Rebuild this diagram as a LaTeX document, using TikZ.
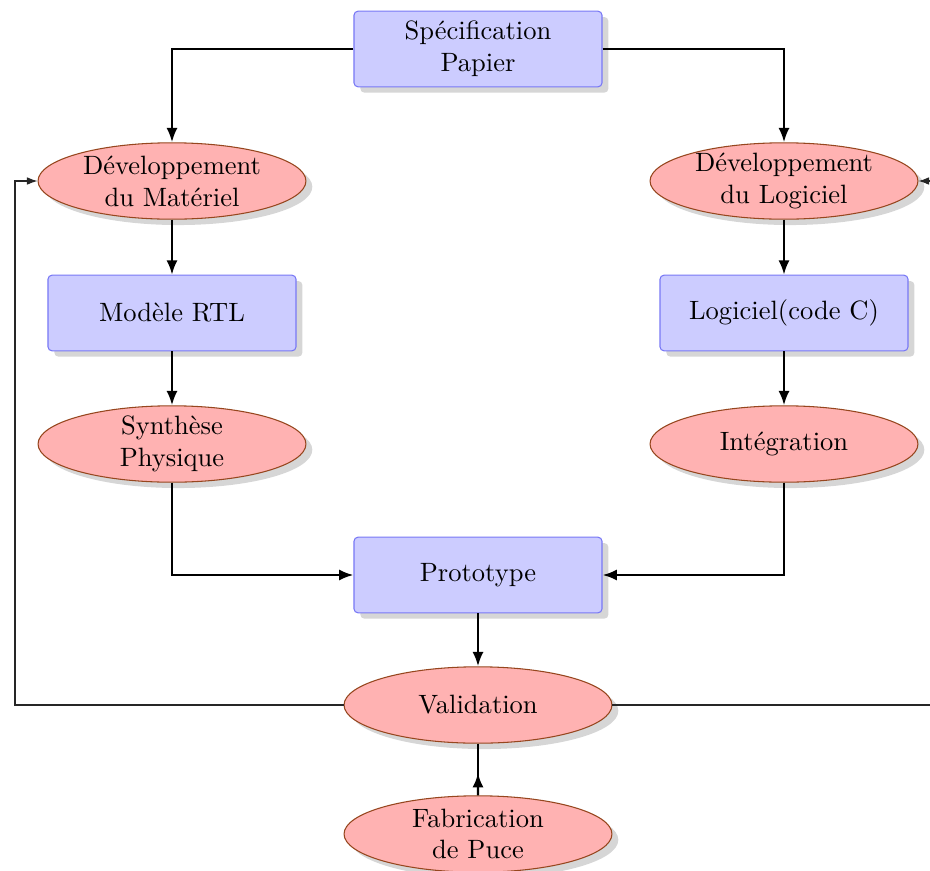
\documentclass[tikz,border=0pt]{standalone}
\usetikzlibrary{shapes.geometric,shadows,arrows.meta,calc}
\definecolor{boxline}{RGB}{120,120,245}
\definecolor{ellline}{RGB}{150,70,30}
\begin{document}
\begin{tikzpicture}[x=0.377pt,y=-0.377pt,
  shade/.style={drop shadow={fill=black!16,opacity=1,shadow xshift=2.4pt,shadow yshift=-2.2pt}},
  block/.style={rectangle,draw=boxline,fill=blue!20,rounded corners=1.5pt,
    minimum width=93.5pt,minimum height=28.5pt,align=center,shade},
  cloud/.style={ellipse,draw=ellline,fill=red!30,inner xsep=0pt,inner ysep=-2pt,
    minimum width=101pt,minimum height=28.8pt,align=center,shade},
  flow/.style={line width=0.9pt,-{Latex[length=5.4pt,width=4.2pt]}},
  loop/.style={line width=0.4pt,draw=black!85,-{Latex[length=4pt,width=2.9pt]}}]
\useasboundingbox (0,0) rectangle (930,871);

% nodes
\node[block] (spec) at (478,49) {Spécification\\Papier};
\node[cloud] (devhw) at (172,181) {Développement\\du Matériel};
\node[cloud] (devsw) at (784,181) {Développement\\du Logiciel};
\node[block] (rtl) at (172,313) {Modèle RTL};
\node[block] (code) at (784,313) {Logiciel(code C)};
\node[cloud] (synth) at (172,444) {Synthèse\\Physique};
\node[cloud] (integ) at (784,444) {Intégration};
\node[block] (proto) at (478,575) {Prototype};
\node[cloud] (valid) at (478,705) {Validation};
\node[cloud] (fab) at (478,834) {Fabrication\\de Puce};

% main flow
\draw[flow] (spec.west) -| (devhw.north);
\draw[flow] (spec.east) -| (devsw.north);
\draw[flow] (devhw) -- (rtl);
\draw[flow] (rtl) -- (synth);
\draw[flow] (devsw) -- (code);
\draw[flow] (code) -- (integ);
\draw[flow] (synth.south) |- (proto.west);
\draw[flow] (integ.south) |- (proto.east);
\draw[flow] (proto) -- (valid);
\draw[line width=0.9pt] (valid.south) -- (fab.north);
\draw[flow] (fab.north) -- ($(fab.north)!0.43!(valid.south)$);

% feedback loops
\coordinate (lb) at (15,705);
\coordinate (rb) at (945,705);
\draw[loop] (valid.west) -- (lb) |- (devhw.west);
\draw[loop] (valid.east) -- (rb) |- (devsw.east);
\end{tikzpicture}
\end{document}
